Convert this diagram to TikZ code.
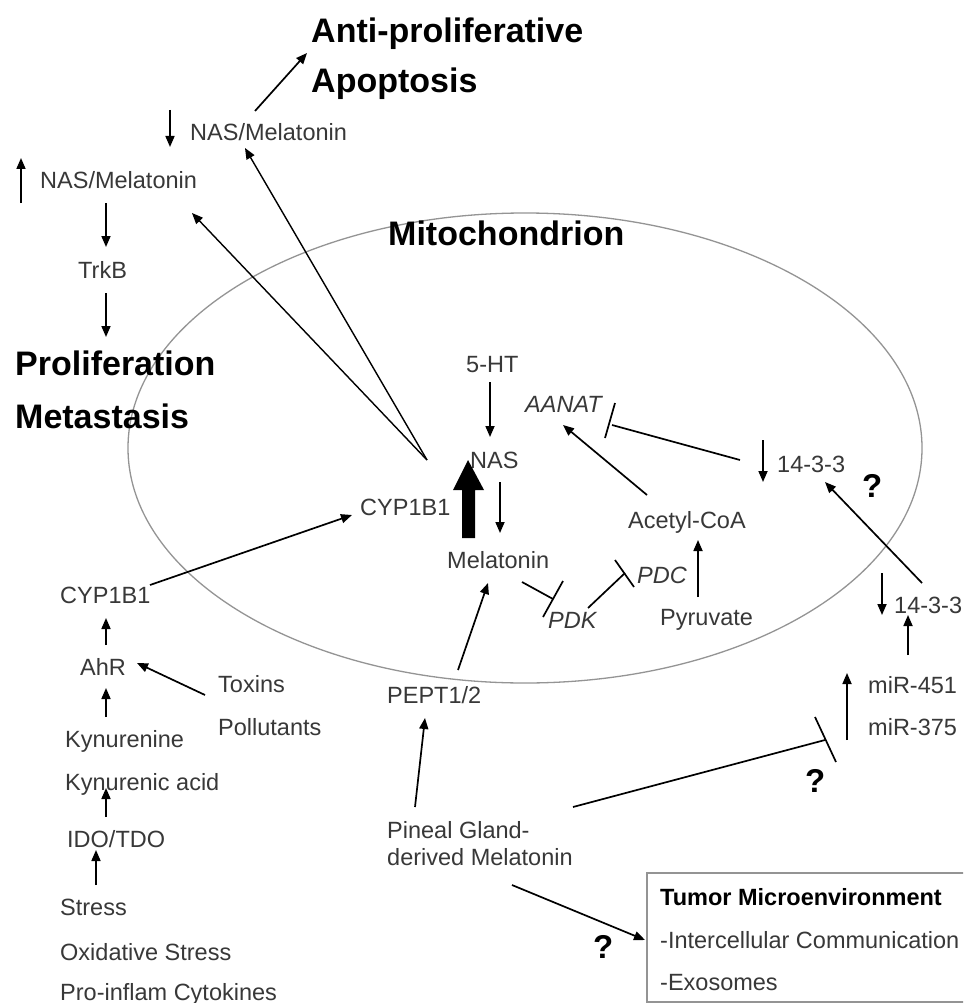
\documentclass[tikz,border=0pt]{standalone}
\usepackage{fontspec}
\setmainfont{Liberation Sans}
\usetikzlibrary{arrows.meta}
\definecolor{txt}{rgb}{0.22,0.22,0.22}
\definecolor{ell}{rgb}{0.58,0.58,0.58}
\tikzset{
  lab/.style={anchor=base west, inner sep=0pt, text=txt, font=\fontsize{23.5}{28}\selectfont},
  ilab/.style={lab, font=\fontsize{23.5}{28}\selectfont\itshape},
  head/.style={anchor=base west, inner sep=0pt, font=\fontsize{34}{40}\selectfont\bfseries},
  qm/.style={anchor=base west, inner sep=0pt, font=\fontsize{33}{40}\selectfont\bfseries},
  arr/.style={-{Triangle[length=11pt,width=9pt]}, line width=1.7pt},
  thinarr/.style={-{Triangle[length=11pt,width=9pt]}, line width=1.4pt},
  inh/.style={line width=1.7pt},
}
\begin{document}
\begin{tikzpicture}[x=1pt,y=-1pt]
\clip (0,0) rectangle (963,1003);
\fill[white] (0,0) rectangle (963,1003);

% mitochondrion
\draw[ell, line width=1.3pt] (525,448) ellipse [x radius=397pt, y radius=235pt];

% headings
\node[head] (anti) at (311,43) {Anti-proliferative};
\node[head] (apop) at (311,93) {Apoptosis};
\node[head] (mito) at (388,245) {Mitochondrion};
\node[head] (prolif) at (15,375) {Proliferation};
\node[head] (meta) at (15,428) {Metastasis};

% labels
\node[lab] (nmtop) at (190,141) {NAS/Melatonin};
\node[lab] (nmleft) at (40,189) {NAS/Melatonin};
\node[lab] (trkb) at (78,278) {TrkB};
\node[lab] (ht) at (466,372) {5-HT};
\node[ilab] (aanat) at (525,412) {AANAT};
\node[lab] (nas) at (470,468) {NAS};
\node[lab] (cypin) at (360,515) {CYP1B1};
\node[lab] (mel) at (447,568) {Melatonin};
\node[lab] (acoa) at (628,528) {Acetyl-CoA};
\node[lab] (fin) at (777,472) {14-3-3};
\node[ilab] (pdc) at (637,583) {PDC};
\node[ilab] (pdk) at (548,628) {PDK};
\node[lab] (pyr) at (660,625) {Pyruvate};
\node[lab] (fout) at (894,613) {14-3-3};
\node[lab] (mir451) at (868,693) {miR-451};
\node[lab] (mir375) at (868,735) {miR-375};
\node[lab] (cypout) at (60,603) {CYP1B1};
\node[lab] (ahr) at (80,675) {AhR};
\node[lab] (tox) at (218,692) {Toxins};
\node[lab] (poll) at (218,735) {Pollutants};
\node[lab] (kyn) at (65,747) {Kynurenine};
\node[lab] (kyna) at (65,790) {Kynurenic acid};
\node[lab] (ido) at (67,847) {IDO/TDO};
\node[lab] (stress) at (60,915) {Stress};
\node[lab] (oxs) at (60,960) {Oxidative Stress};
\node[lab] (cyto) at (60,1000) {Pro-inflam Cytokines};
\node[lab] (pept) at (387,703) {PEPT1/2};
\node[lab] (pin1) at (387,838) {Pineal Gland-};
\node[lab] (pin2) at (387,865) {derived Melatonin};
\node[qm] (q1) at (862,497) {?};
\node[qm] (q2) at (805,792) {?};
\node[qm] (q3) at (593,958) {?};

% tumor microenvironment box
\draw[ell, line width=1.4pt, fill=white] (647,873) rectangle (990,1002);
\node[lab, font=\fontsize{23.5}{28}\selectfont\bfseries, text=black] (tme) at (660,905) {Tumor Microenvironment};
\node[lab] (icc) at (660,948) {-Intercellular Communication};
\node[lab] (exo) at (660,990) {-Exosomes};
\coordinate (box) at (645,940);

% connector end points
\coordinate (upL1) at (21,203);  \coordinate (upL2) at (21,158);
\coordinate (dnT1) at (170,110); \coordinate (dnT2) at (170,147);
\coordinate (nmtopS) at (255,111); \coordinate (antiE) at (307,53);
\coordinate (nmleftS) at (106,203); \coordinate (trkbE) at (106,247);
\coordinate (trkbS) at (106,293); \coordinate (prolifE) at (106,337);
\coordinate (apex) at (427,460);
\coordinate (nmleftE) at (192,213); \coordinate (nmtopE) at (245,148);
\coordinate (cypoutS) at (150,585); \coordinate (cypinE) at (352,515);
\coordinate (ahrS) at (106,645); \coordinate (cypoutE) at (106,618);
\coordinate (toxS) at (205,695); \coordinate (ahrE) at (137,663);
\coordinate (kynS) at (106,717); \coordinate (ahrE2) at (106,688);
\coordinate (idoS) at (106,817); \coordinate (kynaE) at (106,788);
\coordinate (stressS) at (96,885); \coordinate (idoE) at (96,850);
\coordinate (htS) at (490,382); \coordinate (nasE) at (490,437);
\coordinate (nasS) at (500,482); \coordinate (melE) at (500,533);
\coordinate (acoaS) at (647,495); \coordinate (aanatE) at (563,425);
\coordinate (dnI1) at (763,440); \coordinate (dnI2) at (763,482);
\coordinate (foutS) at (922,583); \coordinate (finE) at (825,482);
\coordinate (pyrS) at (698,597); \coordinate (acoaE) at (698,540);
\coordinate (dnO1) at (882,573); \coordinate (dnO2) at (882,615);
\coordinate (mirS) at (908,655); \coordinate (foutE) at (908,615);
\coordinate (upM1) at (847,740); \coordinate (upM2) at (847,673);
\coordinate (peptS) at (458,670); \coordinate (melE2) at (488,583);
\coordinate (pinS) at (415,807); \coordinate (peptE) at (425,718);
\coordinate (pinS2) at (512,885);
% inhibitions
\coordinate (finS) at (740,460); \coordinate (aanatI) at (612,425);
\coordinate (aanatB1) at (615,403); \coordinate (aanatB2) at (605,438);
\coordinate (melS) at (522,582); \coordinate (pdkI) at (553,599);
\coordinate (pdkB1) at (563,581); \coordinate (pdkB2) at (543,617);
\coordinate (pdkS) at (588,608); \coordinate (pdcI) at (625,573);
\coordinate (pdcB1) at (615,560); \coordinate (pdcB2) at (634,587);
\coordinate (pinS3) at (573,807); \coordinate (mirI) at (825,740);
\coordinate (mirB1) at (815,717); \coordinate (mirB2) at (836,762);

% arrows
\draw[arr] (upL1) -- (upL2);
\draw[arr] (dnT1) -- (dnT2);
\draw[arr] (nmtopS) -- (antiE);
\draw[arr] (nmleftS) -- (trkbE);
\draw[arr] (trkbS) -- (prolifE);
\draw[thinarr] (apex) -- (nmleftE);
\draw[thinarr] (apex) -- (nmtopE);
\draw[arr] (cypoutS) -- (cypinE);
\draw[arr] (ahrS) -- (cypoutE);
\draw[arr] (toxS) -- (ahrE);
\draw[arr] (kynS) -- (ahrE2);
\draw[arr] (idoS) -- (kynaE);
\draw[arr] (stressS) -- (idoE);
\draw[arr] (htS) -- (nasE);
\draw[arr] (nasS) -- (melE);
\draw[arr] (acoaS) -- (aanatE);
\draw[arr] (dnI1) -- (dnI2);
\draw[arr] (foutS) -- (finE);
\draw[arr] (pyrS) -- (acoaE);
\draw[arr] (dnO1) -- (dnO2);
\draw[arr] (mirS) -- (foutE);
\draw[arr] (upM1) -- (upM2);
\draw[arr] (peptS) -- (melE2);
\draw[arr] (pinS) -- (peptE);
\draw[arr] (pinS2) -- (box);

% inhibition lines
\draw[inh] (finS) -- (aanatI);
\draw[inh] (aanatB1) -- (aanatB2);
\draw[inh] (melS) -- (pdkI);
\draw[inh] (pdkB1) -- (pdkB2);
\draw[inh] (pdkS) -- (pdcI);
\draw[inh] (pdcB1) -- (pdcB2);
\draw[inh] (pinS3) -- (mirI);
\draw[inh] (mirB1) -- (mirB2);

% big arrow CYP1B1 / Melatonin -> NAS
\fill[black] (462,538) -- (475,538) -- (475,490) -- (484,490) -- (468,460) -- (453,490) -- (462,490) -- cycle;
\end{tikzpicture}
\end{document}
